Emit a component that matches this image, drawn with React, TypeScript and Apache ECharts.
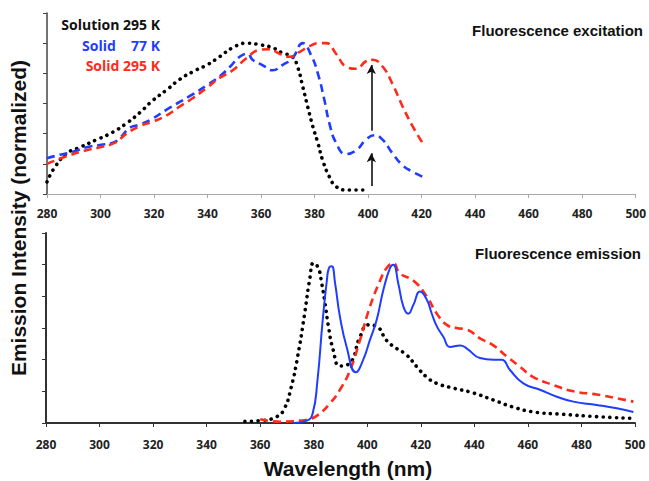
import React, { useEffect, useRef } from "react";
import * as echarts from "echarts";

// ---------- Fluorescence excitation (top panel) ----------
const excSolutionNm = [280, 283, 287.5, 292.3, 298.6, 304.6, 309.8, 314.7, 319.5, 324.7, 329.6, 334.4, 339.7, 344.5, 349.4, 354.6, 359.4, 364.3, 368, 371.7, 373.7, 375.6, 377.4, 379.3, 381.2, 383, 385.5, 388, 391.7, 398];
const excSolutionVal = [0.08, 0.18, 0.27, 0.31, 0.36, 0.41, 0.47, 0.54, 0.62, 0.69, 0.76, 0.81, 0.855, 0.91, 0.97, 1.0, 0.99, 0.97, 0.935, 0.91, 0.84, 0.71, 0.58, 0.45, 0.34, 0.225, 0.115, 0.05, 0.027, 0.027];

const excSolid77Nm = [280, 284.8, 289.7, 294.9, 299.8, 304.6, 307.2, 311, 314.7, 319.5, 324.7, 329.6, 334.4, 339.7, 344.5, 348.2, 352, 355, 356.8, 360.5, 364.3, 368, 371.7, 375.6, 378.7, 381.2, 383.7, 385.5, 388, 391.7, 395.5, 399.2, 402.3, 405.4, 409.1, 412.9, 416.6, 420.3];
const excSolid77Val = [0.237, 0.26, 0.28, 0.31, 0.325, 0.34, 0.37, 0.44, 0.46, 0.5, 0.56, 0.61, 0.66, 0.72, 0.78, 0.84, 0.91, 0.93, 0.89, 0.855, 0.82, 0.855, 0.9, 1.0, 0.92, 0.8, 0.62, 0.47, 0.34, 0.265, 0.29, 0.36, 0.39, 0.36, 0.27, 0.19, 0.148, 0.115];

const excSolid295Nm = [280, 287.3, 294.8, 299.8, 305.4, 309.7, 314.7, 319.5, 324.6, 329.6, 334.4, 339.5, 344.5, 349.4, 354.5, 359.4, 363.1, 366.9, 370.6, 374.3, 378.1, 381.8, 384.3, 388, 391.7, 395.5, 399.2, 401.7, 405.4, 409.1, 412.9, 416.6, 420.3];
const excSolid295Val = [0.2, 0.25, 0.29, 0.31, 0.34, 0.4, 0.45, 0.48, 0.52, 0.58, 0.635, 0.7, 0.77, 0.82, 0.9, 0.955, 0.96, 0.93, 0.91, 0.94, 0.98, 1.0, 1.0, 0.93, 0.845, 0.83, 0.88, 0.89, 0.845, 0.73, 0.58, 0.45, 0.34];

// ---------- Fluorescence emission (bottom panel) ----------
const emSolutionNm = [354.3, 360, 366.2, 369, 371.5, 374, 376.5, 378.6, 379.9, 381.7, 383, 384.2, 385.5, 387.3, 389.8, 393.6, 397.3, 400.4, 403.5, 407.3, 411, 414.7, 418.5, 422.2, 426, 432.2, 439.6, 447.1, 454.6, 462, 473.2, 485.7, 498.2];
const emSolutionVal = [0.01, 0.015, 0.04, 0.09, 0.22, 0.42, 0.68, 0.92, 1.01, 0.98, 0.88, 0.76, 0.61, 0.46, 0.36, 0.38, 0.545, 0.62, 0.61, 0.52, 0.47, 0.43, 0.355, 0.29, 0.25, 0.22, 0.19, 0.145, 0.1, 0.07, 0.055, 0.04, 0.03];

const emSolid77Nm = [372.4, 377.4, 379.6, 381.4, 383.3, 384.9, 385.7, 386.7, 388, 389.8, 392.3, 395.7, 398.5, 401, 403.5, 406, 408.5, 409.7, 411.6, 413.5, 415.3, 417.2, 419.7, 422.2, 424.1, 426, 428.4, 430.9, 434.7, 437.2, 442.1, 447.1, 450.2, 453.3, 458.3, 464.5, 470.8, 477, 485.7, 493.2, 499.4];
const emSolid77Val = [0.0, 0.015, 0.06, 0.27, 0.64, 0.9, 0.98, 0.99, 0.88, 0.67, 0.48, 0.32, 0.4, 0.525, 0.65, 0.84, 0.98, 1.0, 0.88, 0.735, 0.69, 0.745, 0.83, 0.78, 0.69, 0.61, 0.545, 0.48, 0.49, 0.47, 0.41, 0.4, 0.4, 0.335, 0.25, 0.21, 0.166, 0.135, 0.114, 0.093, 0.07];

const emSolid295Nm = [360, 367.4, 374.9, 377.4, 381.5, 386.1, 389.8, 393.6, 397.3, 401, 404.8, 407.3, 409.7, 412.2, 417.2, 422.2, 426, 429.7, 433.4, 437.2, 442.1, 447.1, 452.1, 457.1, 462, 469.5, 477, 485.7, 493.2, 499.4];
const emSolid295Val = [0.023, 0.008, 0.015, 0.02, 0.05, 0.125, 0.21, 0.335, 0.525, 0.735, 0.9, 0.98, 1.01, 0.945, 0.9, 0.8, 0.69, 0.62, 0.6, 0.59, 0.535, 0.49, 0.42, 0.355, 0.29, 0.24, 0.2, 0.18, 0.156, 0.135];

// ---------- Arrows (excitation panel) ----------
const arrowNm = 401.2;
const arrowUpper = [0.42, 0.855];
const arrowLower = [0.053, 0.27];

const legendNames = ["Solution 295 K", "Solid   77 K", "Solid 295 K"];
const panelTitles = ["Fluorescence excitation", "Fluorescence emission"];
const xAxisTitle = "Wavelength (nm)";
const yAxisTitle = "Emission Intensity (normalized)";

const BLACK = "#000000";
const BLUE = "#1f3dff";
const RED = "#ff2a1a";

const zip = (xs: number[], ys: number[]) => xs.map((x, i) => [x, ys[i]]);

export default function App() {
  const ref = useRef<HTMLDivElement>(null);

  useEffect(() => {
    if (!ref.current) return;
    const chart = echarts.init(ref.current, null, { renderer: "svg" });

    const xAxisBase = (gridIndex: number, lineColor: string, lineWidth: number) => ({
      type: "value",
      gridIndex,
      min: 280,
      max: 500,
      interval: 20,
      axisLine: { show: true, lineStyle: { color: lineColor, width: lineWidth } },
      axisTick: { show: true, length: 4, lineStyle: { color: lineColor, width: 1 } },
      axisLabel: {
        show: true,
        margin: gridIndex === 0 ? 13 : 15,
        fontFamily: "Open Sans",
        fontWeight: "bold",
        fontSize: 12,
        color: "#222",
      },
      splitLine: { show: false },
    });

    const yAxisBase = (gridIndex: number, lineColor: string, lineWidth: number) => ({
      type: "value",
      gridIndex,
      min: 0,
      max: 1.2,
      interval: 0.2,
      axisLine: { show: true, lineStyle: { color: lineColor, width: lineWidth } },
      axisTick: { show: true, length: 4, lineStyle: { color: lineColor, width: 1 } },
      axisLabel: { show: false },
      splitLine: { show: false },
    });

    const dotted = { type: [0.1, 6.5], cap: "round", width: 3.6 };
    const dashed = { type: [8, 5], width: 2.6 };

    const lineSeries = (xi: number, data: number[][], color: string, style: any, extra: any = {}) => ({
      type: "line",
      xAxisIndex: xi,
      yAxisIndex: xi,
      data,
      smooth: 0.5,
      showSymbol: false,
      symbol: "none",
      lineStyle: { color, ...style },
      itemStyle: { color },
      z: 3,
      ...extra,
    });

    const option: any = {
      animation: false,
      backgroundColor: "#ffffff",
      grid: [
        { left: 47, top: 13, right: 12, height: 181 },
        { left: 46, top: 233, right: 14, height: 190 },
      ],
      xAxis: [xAxisBase(0, "#a8a8a8", 1), xAxisBase(1, "#333", 2)],
      yAxis: [yAxisBase(0, "#444", 1.5), yAxisBase(1, "#333", 2)],
      series: [
        lineSeries(0, zip(excSolutionNm, excSolutionVal), BLACK, dotted),
        lineSeries(0, zip(excSolid77Nm, excSolid77Val), BLUE, dashed, {
          markLine: {
            silent: true,
            symbol: ["none", "arrow"],
            symbolSize: [7, 9],
            label: { show: false },
            lineStyle: { color: "#111", width: 1.6, type: "solid" },
            data: [
              [{ coord: [arrowNm, arrowUpper[0]] }, { coord: [arrowNm, arrowUpper[1]] }],
              [{ coord: [arrowNm, arrowLower[0]] }, { coord: [arrowNm, arrowLower[1]] }],
            ],
          },
        }),
        lineSeries(0, zip(excSolid295Nm, excSolid295Val), RED, dashed),
        lineSeries(1, zip(emSolutionNm, emSolutionVal), BLACK, dotted),
        lineSeries(1, zip(emSolid295Nm, emSolid295Val), RED, dashed),
        lineSeries(1, zip(emSolid77Nm, emSolid77Val), BLUE, { type: "solid", width: 2 }),
      ],
      graphic: [
        {
          type: "text",
          right: 649 - 160,
          top: 17,
          style: { text: legendNames[0], fill: "#111", font: "bold 14px 'Open Sans'", textAlign: "right" },
        },
        {
          type: "text",
          left: 82,
          top: 38,
          style: { text: "Solid", fill: BLUE, font: "bold 14px 'Open Sans'" },
        },
        {
          type: "text",
          right: 649 - 160,
          top: 38,
          style: { text: "77 K", fill: BLUE, font: "bold 14px 'Open Sans'" },
        },
        {
          type: "text",
          right: 649 - 160,
          top: 58,
          style: { text: legendNames[2], fill: RED, font: "bold 14px 'Open Sans'" },
        },
        {
          type: "text",
          right: 6,
          top: 23,
          style: { text: panelTitles[0], fill: "#111", font: "bold 15px 'Liberation Sans'" },
        },
        {
          type: "text",
          right: 8,
          top: 246,
          style: { text: panelTitles[1], fill: "#111", font: "bold 15px 'Liberation Sans'" },
        },
        {
          type: "text",
          x: 348,
          y: 468,
          style: {
            text: xAxisTitle,
            fill: "#111",
            font: "bold 21px 'Liberation Sans'",
            textAlign: "center",
            textVerticalAlign: "middle",
          },
        },
        {
          type: "text",
          x: 18,
          y: 218,
          rotation: Math.PI / 2,
          style: {
            text: yAxisTitle,
            fill: "#111",
            font: "bold 21px 'Liberation Sans'",
            textAlign: "center",
            textVerticalAlign: "middle",
          },
        },
      ],
    };

    chart.setOption(option);
    return () => chart.dispose();
  }, []);

  return <div ref={ref} style={{ width: 649, height: 481, position: "absolute", left: 0, top: 0 }} />;
}
